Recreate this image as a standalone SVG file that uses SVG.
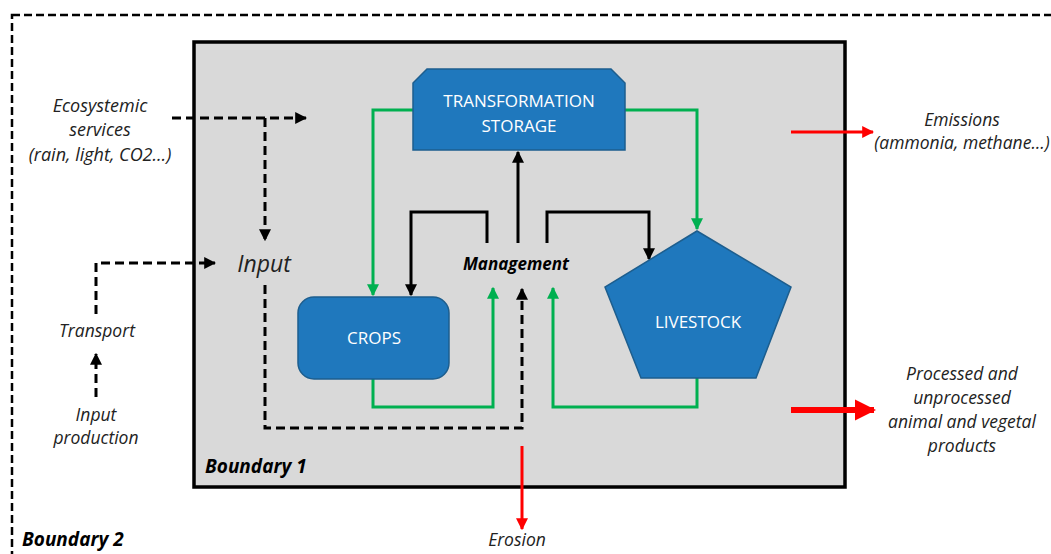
<svg xmlns="http://www.w3.org/2000/svg" width="1051" height="554" viewBox="0 0 1051 554">
<defs>
<style>
.lbl{font-family:"Open Sans","Liberation Sans",sans-serif;font-style:italic;font-size:17.5px;fill:#222;text-anchor:middle}
.bold{font-weight:bold;fill:#000}
.node{fill:#1f78bd;stroke:#1d5e8e;stroke-width:1.5}
.ntxt{font-family:"Open Sans","Liberation Sans",sans-serif;font-size:17px;fill:#fff;text-anchor:middle}
.green{fill:none;stroke:#00b050;stroke-width:3}
.blk{fill:none;stroke:#000;stroke-width:3}
.dash{fill:none;stroke:#000;stroke-width:3;stroke-dasharray:9 5}
.red{fill:none;stroke:#ff0000;stroke-width:3}
</style>
<marker id="ag" viewBox="0 0 10 10" refX="9" refY="5" markerWidth="4" markerHeight="4" orient="auto" markerUnits="strokeWidth"><path d="M0,0L10,5L0,10z" fill="#00b050"/></marker>
<marker id="ab" viewBox="0 0 10 10" refX="9" refY="5" markerWidth="4" markerHeight="4" orient="auto" markerUnits="strokeWidth"><path d="M0,0L10,5L0,10z" fill="#000"/></marker>
<marker id="ar" viewBox="0 0 10 10" refX="9" refY="5" markerWidth="4" markerHeight="4" orient="auto" markerUnits="strokeWidth"><path d="M0,0L10,5L0,10z" fill="#ff0000"/></marker>
<marker id="ar2" viewBox="0 0 10 10" refX="9" refY="5" markerWidth="3.6" markerHeight="3.6" orient="auto" markerUnits="strokeWidth"><path d="M0,0L10,5L0,10z" fill="#ff0000"/></marker>
</defs>
<rect width="1051" height="554" fill="#fff"/>
<g id="boundary2">
<rect x="12" y="15" width="1100" height="600" fill="none" stroke="#000" stroke-width="2.5" stroke-dasharray="8 4"/>
<text x="22" y="546" class="lbl bold" style="text-anchor:start;font-size:19px">Boundary 2</text>
</g>
<g id="boundary1">
<rect x="194" y="42" width="651" height="445" fill="#d9d9d9" stroke="#000" stroke-width="3.5"/>
<text x="205" y="473" class="lbl bold" style="text-anchor:start;font-size:19px">Boundary 1</text>
</g>
<g id="connectors">
<path class="green" d="M413,110H373V295" marker-end="url(#ag)"/>
<path class="green" d="M625,110H697V229" marker-end="url(#ag)"/>
<path class="green" d="M373,378V407H493V288" marker-end="url(#ag)"/>
<path class="green" d="M697,378V407H553V288" marker-end="url(#ag)"/>
<path class="blk" d="M487,243V212H411V295" marker-end="url(#ab)"/>
<path class="blk" d="M518,243V152" marker-end="url(#ab)"/>
<path class="blk" d="M547,243V212H649V259" marker-end="url(#ab)"/>
<path class="dash" d="M172,118H306" marker-end="url(#ab)"/>
<path class="dash" d="M265,118V240" marker-end="url(#ab)"/>
<path class="dash" d="M96,314V263H215" marker-end="url(#ab)"/>
<path class="dash" d="M96,397V354" marker-end="url(#ab)"/>
<path class="dash" d="M265,285V428H522V289" marker-end="url(#ab)"/>
<path class="red" d="M791,132H873" marker-end="url(#ar)"/>
<path class="red" d="M791,410H874" style="stroke-width:6" marker-end="url(#ar2)"/>
<path class="red" d="M522,446V529" marker-end="url(#ar)"/>
</g>
<g id="transformation">
<path class="node" d="M427,69H611L625,83V150H413V83Z"/>
<text x="519" y="107" class="ntxt">TRANSFORMATION</text>
<text x="519" y="132" class="ntxt">STORAGE</text>
</g>
<g id="crops">
<rect class="node" x="298" y="297" width="151" height="82" rx="16"/>
<text x="374" y="344" class="ntxt">CROPS</text>
</g>
<g id="livestock">
<path class="node" d="M697,231L791,287L756,378H641L605,287Z"/>
<text x="698" y="328" class="ntxt">LIVESTOCK</text>
</g>
<g id="management">
<text x="516" y="270" class="lbl bold" style="font-size:17px">Management</text>
</g>
<g id="input">
<text x="264" y="272" class="lbl" style="font-size:23px">Input</text>
</g>
<g id="ecosystemic">
<text x="100" y="112" class="lbl" style="font-size:18px">Ecosystemic</text>
<text x="100" y="136" class="lbl" style="font-size:18px">services</text>
<text x="100" y="161" class="lbl" style="font-size:18px">(rain, light, CO2…)</text>
</g>
<g id="transport"><text x="97" y="337" class="lbl">Transport</text></g>
<g id="inputprod">
<text x="96" y="421" class="lbl">Input</text>
<text x="96" y="444" class="lbl">production</text>
</g>
<g id="emissions">
<text x="962" y="126" class="lbl">Emissions</text>
<text x="962" y="149" class="lbl">(ammonia, methane…)</text>
</g>
<g id="products">
<text x="962" y="380" class="lbl">Processed and</text>
<text x="962" y="404" class="lbl">unprocessed</text>
<text x="962" y="428" class="lbl">animal and vegetal</text>
<text x="962" y="452" class="lbl">products</text>
</g>
<g id="erosion"><text x="517" y="546" class="lbl">Erosion</text></g>
</svg>
